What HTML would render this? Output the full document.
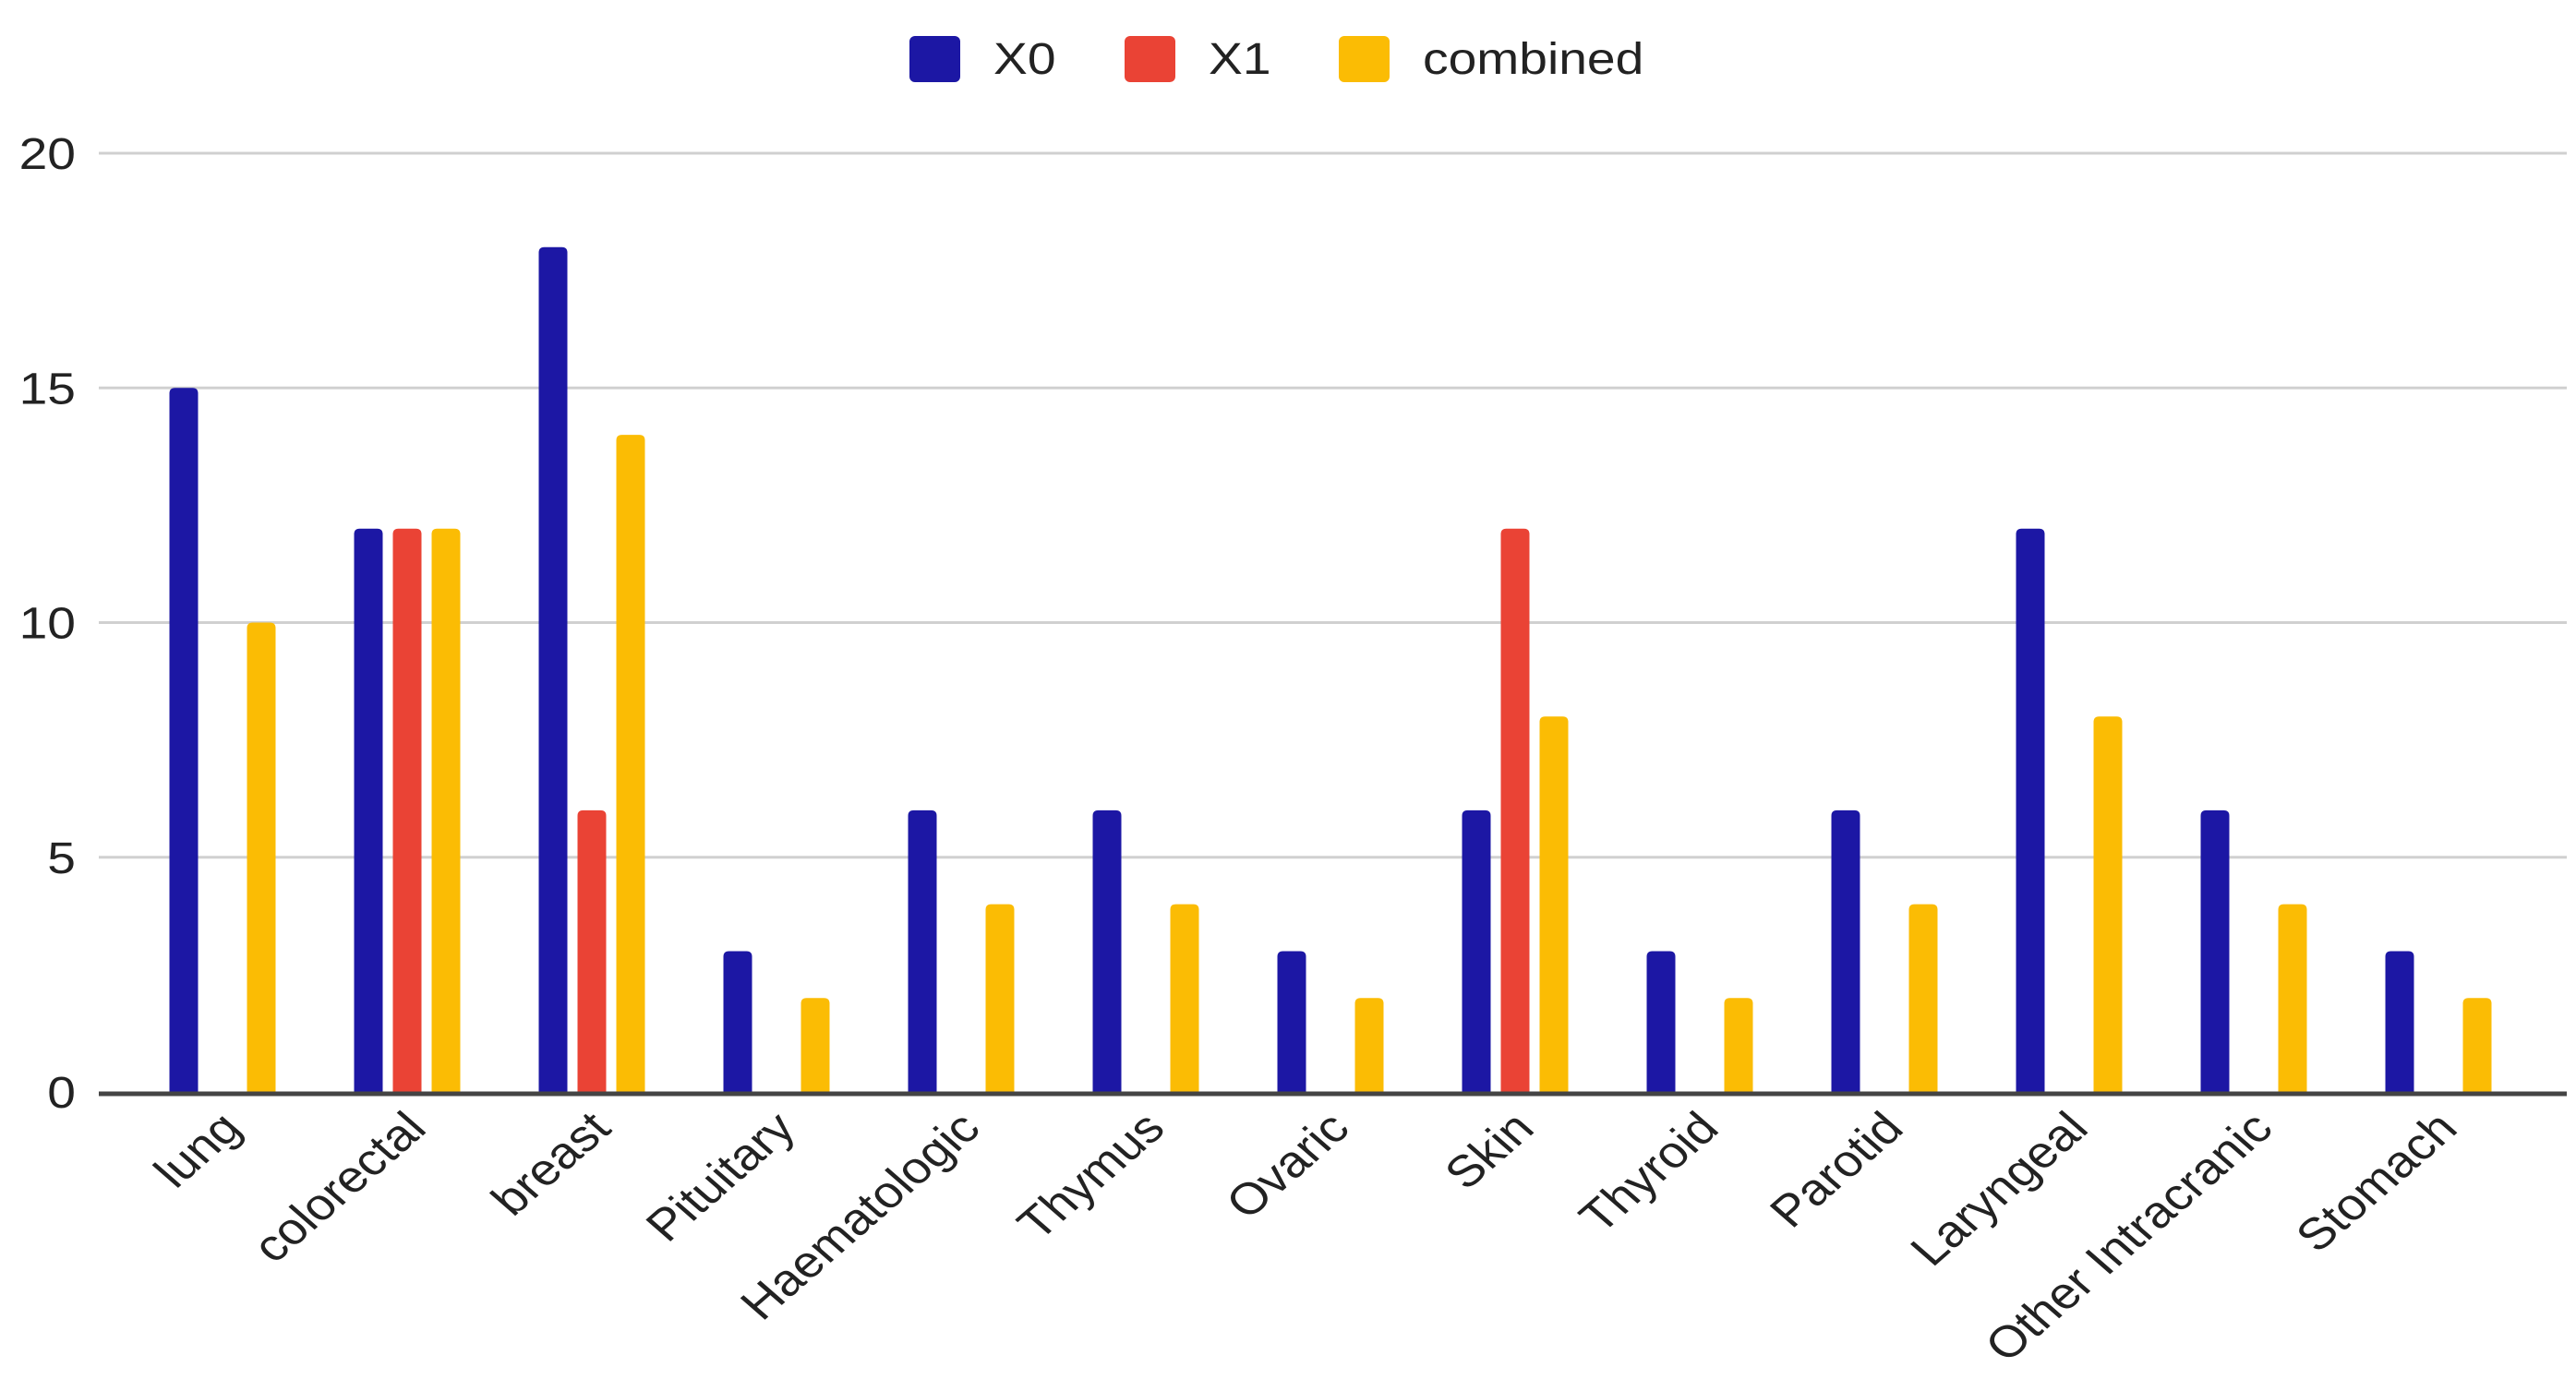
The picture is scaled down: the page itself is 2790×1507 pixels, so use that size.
<!DOCTYPE html>
<html><head><meta charset="utf-8"><style>
html,body{margin:0;padding:0;background:#fff;}
svg{display:block;font-family:"Liberation Sans",Arial,sans-serif;}
</style></head><body>
<svg id="chart" width="2790" height="1507" viewBox="0 0 2790 1507" xmlns="http://www.w3.org/2000/svg">
<g id="grid"></g>
<g id="yticks"></g>
<g id="bars"></g>
<line id="axis" x1="107" x2="2780" stroke="#444" stroke-width="5"/>
<g id="xlabels"></g>
<g id="legend"></g>
</svg>
<script>
const categories = ["lung","colorectal","breast","Pituitary","Haematologic","Thymus","Ovaric","Skin","Thyroid","Parotid","Laryngeal","Other Intracranic","Stomach"];
const seriesNames = ["X0","X1","combined"];
const x0Values = [15,12,18,3,6,6,3,6,3,6,12,6,3];
const x1Values = [0,12,6,0,0,0,0,12,0,0,0,0,0];
const combinedValues = [10,12,14,2,4,4,2,8,2,4,8,4,2];
const yTicks = [0,5,10,15,20];

const colors = ["#1c17a4","#ea4335","#fbbc04"];
const NS = "http://www.w3.org/2000/svg";
const Y0 = 1183, Y20 = 166, SX = 1.15;
function yScale(v){ return Y0 - (v/20)*(Y0-Y20); }
function xCenter(i){ return 241 + i*200; }
function mk(tag, attrs, parent){ const e=document.createElementNS(NS,tag); for(const k in attrs) e.setAttribute(k,attrs[k]); parent.appendChild(e); return e; }

const grid=document.getElementById('grid'), yt=document.getElementById('yticks');
yTicks.forEach(t=>{
  const y=yScale(t);
  if(t>0){ const l=mk('line',{x1:107,x2:2780,y1:y,y2:y,stroke:'#d0d0d0','stroke-width':3},grid);
    
     }
  const tx=mk('text',{transform:`translate(82,${y+17}) scale(${SX},1)`,'text-anchor':'end','font-size':48,fill:'#222'},yt);
  tx.textContent=t;
  
  
});
document.getElementById('axis').setAttribute('y1',Y0+2);
document.getElementById('axis').setAttribute('y2',Y0+2);

const bars=document.getElementById('bars');
const all=[x0Values,x1Values,combinedValues];
const W=31, R=6;
categories.forEach((c,i)=>{
  all.forEach((vals,s)=>{
    const v=vals[i]; if(v<=0) return;
    const cx=xCenter(i)+(s-1)*42, x=cx-W/2, y=yScale(v), b=Y0;
    const p=mk('path',{d:`M${x},${b} L${x},${y+R} Q${x},${y} ${x+R},${y} L${x+W-R},${y} Q${x+W},${y} ${x+W},${y+R} L${x+W},${b} Z`,fill:colors[s]},bars);
    
    
  });
  const t=mk('text',{transform:`translate(${xCenter(i)+23},${Y0+42}) scale(${SX},1) rotate(-45)`,'text-anchor':'end','font-size':48,fill:'#222'},document.getElementById('xlabels'));
  t.textContent=c;
  
  
});

const leg=document.getElementById('legend');
const legX=[985,1218,1450];
seriesNames.forEach((n,s)=>{
  const r=mk('rect',{x:legX[s],y:39,width:55,height:50,rx:6,fill:colors[s]},leg);
  
  
  const t=mk('text',{transform:`translate(${legX[s]+91},80) scale(${SX},1)`,'font-size':48,fill:'#222'},leg);
  t.textContent=n;
  
  
});
</script>
</body></html>
